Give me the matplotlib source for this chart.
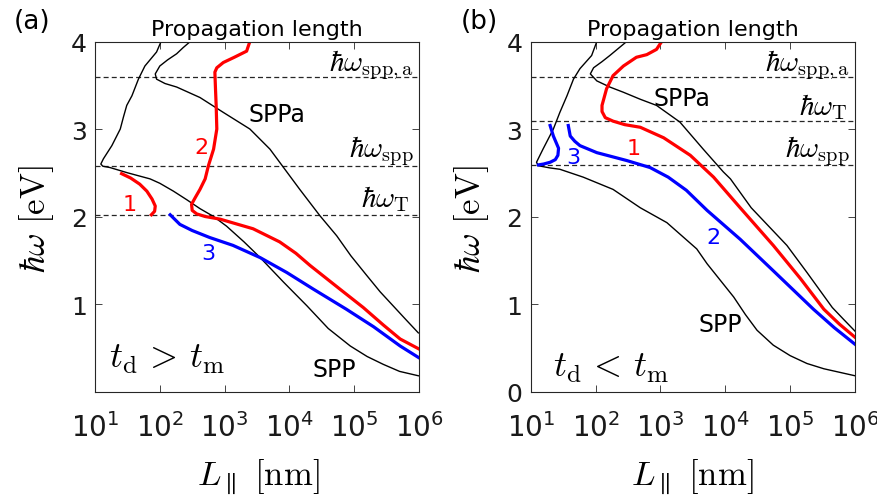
import numpy as np
import matplotlib
matplotlib.use('Agg')
import matplotlib.pyplot as plt

plt.rcParams['font.family'] = ['DejaVu Sans']
plt.rcParams['mathtext.fontset'] = 'cm'

# ---- (a) t_d > t_m : log10(L / nm) and energy (eV) ----
a_spp_logL = [2.02, 1.95, 1.86, 1.77, 1.67, 1.57, 1.49, 1.44, 1.39, 1.26, 1.13, 1.09, 1.12,
              1.23, 1.50, 1.85, 2.00, 2.21, 2.42, 2.62, 2.83, 3.03, 3.30, 3.55, 3.91, 4.27,
              4.60, 4.94, 5.20, 5.45, 5.70, 5.99]
a_spp_E = [4.00, 3.88, 3.80, 3.72, 3.57, 3.38, 3.27, 3.14, 3.00, 2.81, 2.66, 2.60, 2.575,
           2.56, 2.50, 2.43, 2.38, 2.29, 2.19, 2.09, 2.00, 1.89, 1.71, 1.53, 1.25, 0.98,
           0.72, 0.52, 0.40, 0.31, 0.23, 0.18]

a_sppa_logL = [2.47, 2.36, 2.26, 2.12, 2.00, 1.93, 1.95, 2.08, 2.26, 2.62, 2.98, 3.39, 3.70,
               3.85, 4.16, 4.47, 4.73, 4.95, 5.19, 5.40, 5.60, 5.80, 5.99]
a_sppa_E = [4.00, 3.93, 3.86, 3.79, 3.72, 3.63, 3.57, 3.52, 3.48, 3.36, 3.19, 3.00, 2.77,
            2.62, 2.31, 2.01, 1.78, 1.55, 1.33, 1.14, 0.98, 0.82, 0.67]

a_red2_logL = [3.39, 3.34, 3.15, 2.98, 2.88, 2.85, 2.86, 2.87, 2.88, 2.83, 2.75, 2.70, 2.62,
               2.55, 2.49, 2.50, 2.57, 2.70, 2.93, 3.44, 3.85, 4.10, 4.32, 4.78, 5.14, 5.45,
               5.71, 5.99]
a_red2_E = [4.00, 3.89, 3.82, 3.76, 3.70, 3.65, 3.45, 3.27, 3.00, 2.77, 2.58, 2.43, 2.31,
            2.22, 2.14, 2.07, 2.03, 2.00, 1.97, 1.86, 1.71, 1.58, 1.44, 1.17, 0.96, 0.76,
            0.60, 0.49]

a_red1_logL = [1.41, 1.55, 1.69, 1.80, 1.88, 1.93, 1.92, 1.87]
a_red1_E = [2.49, 2.44, 2.37, 2.29, 2.20, 2.12, 2.06, 2.02]

a_blue3_logL = [2.16, 2.31, 2.50, 2.77, 3.13, 3.55, 3.96, 4.37, 4.88, 5.30, 5.71, 5.99]
a_blue3_E = [2.02, 1.91, 1.84, 1.76, 1.67, 1.53, 1.36, 1.17, 0.94, 0.74, 0.52, 0.39]

a_levels = [3.60, 2.58, 2.02]

# ---- (b) t_d < t_m ----
b_spp_logL = [2.02, 1.94, 1.76, 1.66, 1.56, 1.45, 1.35, 1.19, 1.09, 1.12, 1.30, 1.45, 1.81,
              2.27, 2.69, 3.10, 3.56, 3.72, 4.13, 4.31, 4.49, 4.74, 5.00, 5.26, 5.52, 5.76, 6.00]
b_spp_E = [4.00, 3.84, 3.69, 3.57, 3.38, 3.19, 3.00, 2.77, 2.62, 2.58, 2.555, 2.54, 2.45,
           2.31, 2.10, 1.93, 1.63, 1.46, 1.08, 0.88, 0.70, 0.53, 0.41, 0.32, 0.26, 0.22, 0.18]

b_sppa_logL = [2.48, 2.35, 2.22, 2.10, 1.97, 1.92, 2.02, 2.22, 2.43, 2.69, 2.94, 3.30, 3.66,
               3.97, 4.08, 4.40, 4.95, 5.26, 5.65, 5.83, 6.00]
b_sppa_E = [4.00, 3.92, 3.84, 3.77, 3.70, 3.63, 3.55, 3.48, 3.42, 3.34, 3.27, 3.08, 2.77,
            2.51, 2.43, 2.10, 1.67, 1.36, 0.96, 0.82, 0.69]

b_red1_logL = [3.02, 2.94, 2.79, 2.63, 2.43, 2.27, 2.17, 2.10, 2.10, 2.15, 2.27, 2.45, 2.69,
               3.05, 3.46, 3.82, 4.23, 4.74, 5.16, 5.52, 5.76, 6.00]
b_red1_E = [4.00, 3.91, 3.85, 3.82, 3.72, 3.61, 3.46, 3.27, 3.20, 3.13, 3.09, 3.05, 3.02,
            2.90, 2.70, 2.45, 2.10, 1.67, 1.29, 0.94, 0.77, 0.62]

b_blue2_logL = [1.58, 1.61, 1.68, 1.76, 2.02, 2.48, 2.84, 3.12, 3.40, 3.72, 4.23, 4.74, 5.36,
                5.68, 6.00]
b_blue2_E = [3.04, 2.92, 2.86, 2.81, 2.73, 2.64, 2.56, 2.45, 2.30, 2.07, 1.74, 1.38, 0.94,
             0.73, 0.54]

b_blue3_logL = [1.30, 1.35, 1.43, 1.42, 1.38, 1.30, 1.20, 1.12]
b_blue3_E = [3.04, 2.92, 2.78, 2.70, 2.65, 2.62, 2.60, 2.59]

b_levels = [3.60, 3.09, 2.59]

RED = '#ff0000'
BLUE = '#0000ff'
AXC = '0.15'


def L(logs):
    return 10.0 ** np.array(logs)


fig = plt.figure(figsize=(8.78, 5.02), dpi=100)
ax1 = fig.add_axes([0.1082, 0.2181, 0.3690, 0.6972])
ax2 = fig.add_axes([0.6044, 0.2181, 0.3694, 0.6972])

for ax, levels in [(ax1, a_levels), (ax2, b_levels)]:
    for lv in levels:
        ax.axhline(lv, color=AXC, ls=(0, (4, 2.5)), lw=0.9, zorder=1)

# panel (a)
ax1.plot(L(a_spp_logL), a_spp_E, color='k', lw=1.0)
ax1.plot(L(a_sppa_logL), a_sppa_E, color='k', lw=1.0)
ax1.plot(L(a_red2_logL), a_red2_E, color=RED, lw=2.3)
ax1.plot(L(a_red1_logL), a_red1_E, color=RED, lw=2.3)
ax1.plot(L(a_blue3_logL), a_blue3_E, color=BLUE, lw=2.3)

# panel (b)
ax2.plot(L(b_spp_logL), b_spp_E, color='k', lw=1.0)
ax2.plot(L(b_sppa_logL), b_sppa_E, color='k', lw=1.0)
ax2.plot(L(b_red1_logL), b_red1_E, color=RED, lw=2.3)
ax2.plot(L(b_blue2_logL), b_blue2_E, color=BLUE, lw=2.3)
ax2.plot(L(b_blue3_logL), b_blue3_E, color=BLUE, lw=2.3)

for ax in (ax1, ax2):
    ax.set_xscale('log')
    ax.set_xlim(10, 1e6)
    ax.set_ylim(0, 4)
    ax.set_xticks([1e1, 1e2, 1e3, 1e4, 1e5, 1e6])
    for s in ax.spines.values():
        s.set_color(AXC)
        s.set_linewidth(0.8)
    ax.tick_params(which='both', direction='in', top=True, right=True, color=AXC, width=0.6)
    ax.tick_params(which='major', length=5)
    ax.tick_params(which='minor', length=2.5)
    ax.tick_params(axis='x', labelsize=20, pad=15, labelcolor='0.1')
    ax.tick_params(axis='y', labelsize=18, pad=6, labelcolor='0.1')
    ax.set_title('Propagation length', fontsize=16, pad=5)

ax1.set_yticks([1, 2, 3, 4])
ax2.set_yticks([0, 1, 2, 3, 4])

# labels of the energy levels and curves
mt = 21
ax1.text(10**5.92, 3.67, r'$\hbar\omega_{\rm spp,a}$', fontsize=mt, ha='right', va='baseline')
ax1.text(10**5.92, 2.69, r'$\hbar\omega_{\rm spp}$', fontsize=mt, ha='right', va='baseline')
ax1.text(10**5.86, 2.12, r'$\hbar\omega_{\rm T}$', fontsize=mt, ha='right', va='baseline')
ax1.text(10**3.37, 3.09, 'SPPa', fontsize=17, ha='left', va='baseline')
ax1.text(10**4.69, 0.18, 'SPP', fontsize=17, ha='center', va='baseline')
ax1.text(10**2.65, 2.73, '2', fontsize=16, color=RED, ha='center', va='baseline')
ax1.text(10**1.54, 2.08, '1', fontsize=16, color=RED, ha='center', va='baseline')
ax1.text(10**2.75, 1.51, '3', fontsize=16, color=BLUE, ha='center', va='baseline')
ax1.text(10**1.21, 0.28, r'$t_{\rm d}\, >\, t_{\rm m}$', fontsize=26, ha='left', va='baseline')

ax2.text(10**5.92, 3.67, r'$\hbar\omega_{\rm spp,a}$', fontsize=mt, ha='right', va='baseline')
ax2.text(10**5.88, 3.17, r'$\hbar\omega_{\rm T}$', fontsize=mt, ha='right', va='baseline')
ax2.text(10**5.92, 2.69, r'$\hbar\omega_{\rm spp}$', fontsize=mt, ha='right', va='baseline')
ax2.text(10**2.89, 3.27, 'SPPa', fontsize=17, ha='left', va='baseline')
ax2.text(10**3.92, 0.69, 'SPP', fontsize=17, ha='center', va='baseline')
ax2.text(10**2.58, 2.71, '1', fontsize=16, color=RED, ha='center', va='baseline')
ax2.text(10**1.66, 2.61, '3', fontsize=16, color=BLUE, ha='center', va='baseline')
ax2.text(10**3.82, 1.70, '2', fontsize=16, color=BLUE, ha='center', va='baseline')
ax2.text(10**1.35, 0.18, r'$t_{\rm d}\, <\, t_{\rm m}$', fontsize=26, ha='left', va='baseline')

# axis labels and panel tags
for xc in (37, 472):
    fig.text(xc / 878, 1 - 219 / 502, r'$\hbar\omega\ [\rm eV]$', fontsize=25,
             rotation=90, ha='center', va='center')
for xc in (258, 692):
    fig.text(xc / 878, 1 - 477 / 502, r'$L_{\parallel}\ [\rm nm]$', fontsize=25,
             ha='center', va='center')
fig.text(32 / 878, 1 - 22 / 502, '(a)', fontsize=19, ha='center', va='center')
fig.text(479 / 878, 1 - 22 / 502, '(b)', fontsize=19, ha='center', va='center')

fig.savefig('out.png', dpi=100)
